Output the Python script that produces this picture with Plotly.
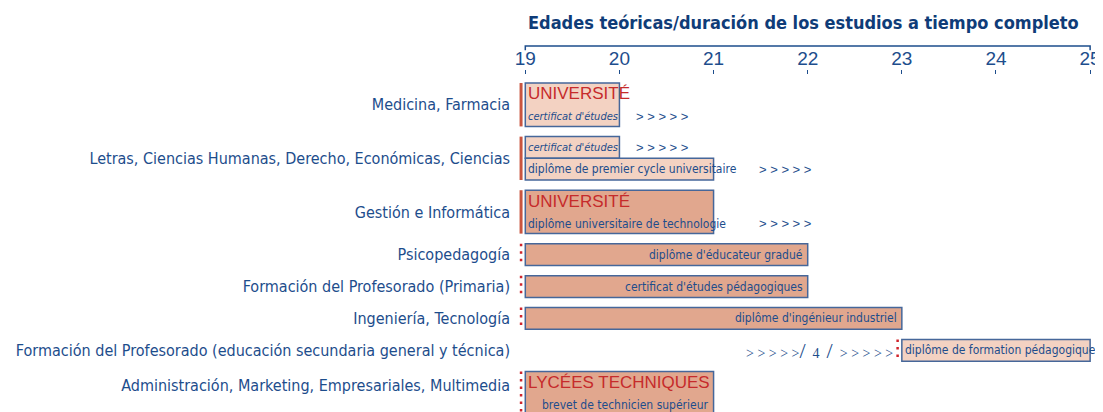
import plotly.graph_objects as go

# rows (label on the left) and their height in bar units
programmes = ["Medicina, Farmacia",
              "Letras, Ciencias Humanas, Derecho, Económicas, Ciencias",
              "Gestión e Informática",
              "Psicopedagogía",
              "Formación del Profesorado (Primaria)",
              "Ingeniería, Tecnología",
              "Formación del Profesorado (educación secundaria general y técnica)",
              "Administración, Marketing, Empresariales, Multimedia"]
row_units = [2, 2, 2, 1, 1, 1, 1, 2]
institution = ["UNIVERSITÉ", "", "UNIVERSITÉ", "", "", "", "", "LYCÉES TECHNIQUES"]
marker_kind = ["solid", "solid", "solid", "dot", "dot", "dot", "dot", "dot"]

# one entry per bar
bar_row = [0, 1, 1, 2, 3, 4, 5, 6, 7]
bar_start = [19, 19, 19, 19, 19, 19, 19, 23, 19]
bar_end = [20, 20, 21, 21, 22, 22, 23, 25, 21]
diploma = ["certificat d'études", "certificat d'études",
           "diplôme de premier cycle universitaire",
           "diplôme universitaire de technologie",
           "diplôme d'éducateur gradué", "certificat d'études pédagogiques",
           "diplôme d'ingénieur industriel", "diplôme de formation pédagogique",
           "brevet de technicien supérieur"]
bar_tone = ["light", "light", "light", "dark", "dark", "dark", "dark", "light", "dark"]
continues = [True, True, True, True, False, False, False, False, False]

age_ticks = [19, 20, 21, 22, 23, 24, 25]

NAVY = "#1d4d8c"
TITLE = "#0f3c78"
RED_TEXT = "#c62b2b"
RED_SOLID = "#c9553f"
RED_DOT = "#d0242b"
EDGE = "#46679a"
FILL = {"light": "#f3d2c2", "dark": "#e1a78e"}
NARROW = "Liberation Sans Narrow, Arial Narrow, DejaVu Sans Condensed, sans-serif"
SANS = "Liberation Sans, Arial, sans-serif"
SERIF = "Liberation Serif, Times New Roman, serif"

# vertical layout in bar units (1 unit ~ one thin bar)
gap = 0.47
tops = []
y = 0.6
for h in row_units:
    tops.append(y)
    y += h + gap
y_max = 15.76
label_y = [t + h / 2 for t, h in zip(tops, row_units)]
label_y[-1] = tops[-1] + 0.63  # last row is cut at the bottom of the image

# bar geometry derived from rows
bar_center, bar_height = [], []
seen = {}
for r in bar_row:
    n = bar_row.count(r)
    k = seen.get(r, 0)
    seen[r] = k + 1
    h = row_units[r] / n
    bar_center.append(tops[r] + h * k + h / 2)
    bar_height.append(h)

fig = go.Figure()
fig.add_trace(go.Bar(
    orientation="h",
    y=bar_center,
    x=[e - s for s, e in zip(bar_start, bar_end)],
    base=bar_start,
    width=bar_height,
    marker=dict(color=[FILL[t] for t in bar_tone], line=dict(color=EDGE, width=1.5)),
    hoverinfo="skip",
))

# red markers at the start of each programme
for r in range(len(programmes)):
    start = min(s for s, br in zip(bar_start, bar_row) if br == r)
    solid = marker_kind[r] == "solid"
    fig.add_trace(go.Scatter(
        x=[start - 0.045, start - 0.045],
        y=[tops[r], tops[r] + row_units[r]],
        mode="lines",
        line=dict(color=RED_SOLID if solid else RED_DOT, width=3 if solid else 2.5,
                  dash=None if solid else "2.5px,5px"),
        hoverinfo="skip",
    ))

ann = []
for r, name in enumerate(institution):
    if name:
        ann.append(dict(x=19, y=tops[r] + 0.5, text=name, xanchor="left", yanchor="middle",
                        xshift=1, showarrow=False, font=dict(family=SANS, size=17, color=RED_TEXT)))

for i, txt in enumerate(diploma):
    r = bar_row[i]
    single_tall = row_units[r] == 2 and bar_row.count(r) == 1
    yy = tops[r] + 1.55 if single_tall else bar_center[i]
    right = bar_tone[i] == "dark" and bar_end[i] >= 22 or i == 8
    italic = txt == "certificat d'études"
    ann.append(dict(
        x=bar_end[i] if right else bar_start[i], y=yy,
        xanchor="right" if right else "left", yanchor="middle",
        xshift=-3 if right else 1, showarrow=False,
        text=f"<i>{txt}</i>" if italic else txt,
        font=dict(family=NARROW, size=11 if italic else 12, color=NAVY)))
    if continues[i]:
        ann.append(dict(x=bar_end[i], y=yy, xanchor="left", yanchor="middle",
                        xshift=15 if bar_end[i] == 20 else 43, showarrow=False,
                        text="&gt; &gt; &gt; &gt; &gt;",
                        font=dict(family=SANS, size=13, color=NAVY)))

# gap note before the teacher-training bar
ann.append(dict(x=23 - 0.045, y=label_y[6], xanchor="right", yanchor="middle", xshift=-3,
                showarrow=False,
                text="&gt; &gt; &gt; &gt; &gt;<span style='font-size:22px'>/</span>  4  "
                     "<span style='font-size:22px'>/</span>  &gt; &gt; &gt; &gt; &gt;",
                font=dict(family=SERIF, size=14, color=NAVY)))

# title above the age axis
ann.append(dict(x=0.5, y=1.14, xref="paper", yref="paper", xanchor="center", yanchor="middle",
                showarrow=False, text="<b>Edades teóricas/duración de los estudios a tiempo completo</b>",
                font=dict(family=NARROW, size=18, color=TITLE)))

# axis line with end ticks above the age labels
fig.add_shape(type="path", xref="x", yref="paper",
              path=f"M {age_ticks[0]},1.058 L {age_ticks[0]},1.07 L {age_ticks[-1]},1.07 L {age_ticks[-1]},1.058",
              line=dict(color=NAVY, width=1.5))

# the page body adds an 8px offset, so margins are set 8px tighter on the top/left
fig.update_layout(
    width=1103, height=412,
    margin=dict(l=506, r=19, t=62, b=8),
    paper_bgcolor="white", plot_bgcolor="white",
    showlegend=False,
    annotations=ann,
    xaxis=dict(side="top", range=[18.88, 25.02], tickvals=age_ticks, automargin=False,
               showgrid=False, zeroline=False, showline=False,
               ticks="inside", ticklen=4, tickwidth=1, tickcolor=NAVY,
               tickfont=dict(family=SANS, size=19, color=NAVY)),
    yaxis=dict(range=[y_max, 0], tickvals=label_y, ticktext=programmes, automargin=False,
               showgrid=False, zeroline=False, showline=False, ticks="",
               ticklabelstandoff=3,
               tickfont=dict(family=NARROW, size=16, color=NAVY)),
)

fig.write_html("out.html")
